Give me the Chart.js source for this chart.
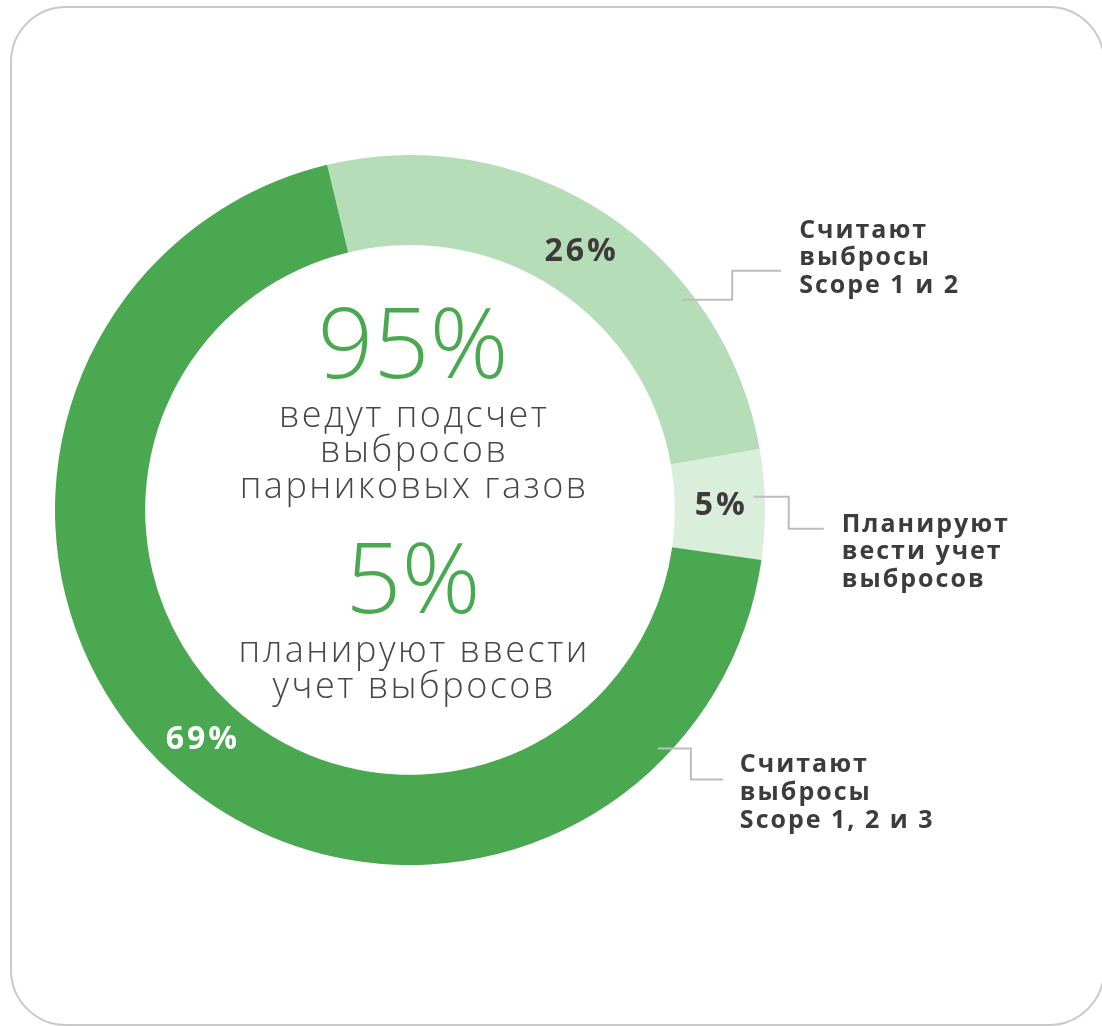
<!DOCTYPE html>
<html>
<head>
<meta charset="utf-8">
<script src="https://cdn.jsdelivr.net/npm/chart.js@4"></script>
<style>
  html, body { margin: 0; padding: 0; background: #fff; overflow: hidden; }
  #card {
    position: absolute; left: 10px; top: 6px; width: 1095px; height: 1020px;
    box-sizing: border-box; border: 2px solid #c9c9c9; border-radius: 56px;
  }
  #graph { position: absolute; left: 0; top: 0; }
</style>
</head>
<body>
<div id="card"></div>
<canvas id="graph" width="1102" height="1026"></canvas>
<script>
// data
const segmentLabels = ['Считают выбросы Scope 1 и 2', 'Планируют вести учет выбросов', 'Считают выбросы Scope 1, 2 и 3'];
const segmentValues = [26, 5, 69];
const calloutLines = [
    ['Считают', 'выбросы', 'Scope 1 и 2'],
    ['Планируют', 'вести учет', 'выбросов'],
    ['Считают', 'выбросы', 'Scope 1, 2 и 3'],
];
const centerBig = ['95%', '5%'];
const centerSmall = [
    ['ведут подсчет', 'выбросов', 'парниковых газов'],
    ['планируют ввести', 'учет выбросов'],
];

const colors = ['#b5ddb8', '#d9eedb', '#4aa850'];
const green = '#4aa850';
const darkText = '#3f3b3c';
const greyText = '#4a4647';

// callout geometry: angle (deg from top) of the start point, elbow offsets
const callouts = [
    { angle: 52.3, dx1: 50, dy: -29, dx2: 49, tx: 18, lineGap: 27.5, firstBase: -33 },
    { angle: 87.8, dx1: 35, dy: 32, dx2: 35, tx: 18, lineGap: 27.5, firstBase: 3 },
    { angle: 133.9, dx1: 33, dy: 31, dx2: 32, tx: 17, lineGap: 28, firstBase: -8 },
];

const boldFont = '700 25px "Open Sans", "DejaVu Sans", sans-serif';

const labelsPlugin = {
    id: 'labelsPlugin',
    afterDatasetsDraw(chart) {
        const c = chart.ctx;
        const meta = chart.getDatasetMeta(0);
        c.save();

        meta.data.forEach((arc, i) => {
            const p = arc.getCenterPoint();
            // percent on the ring
            c.font = '700 32px "Open Sans", "DejaVu Sans", sans-serif';
            c.letterSpacing = '3px';
            c.textAlign = 'center';
            c.textBaseline = 'middle';
            c.fillStyle = i === 2 ? '#ffffff' : darkText;
            c.fillText(segmentValues[i] + '%', p.x + 1.5, p.y + 1);

            // callout line
            const co = callouts[i];
            const a = (co.angle - 90) * Math.PI / 180;
            const r = arc.outerRadius - 11;
            const sx = arc.x + r * Math.cos(a);
            const sy = arc.y + r * Math.sin(a);
            c.strokeStyle = '#bdbdbd';
            c.lineWidth = 2;
            c.beginPath();
            c.moveTo(sx, sy);
            c.lineTo(sx + co.dx1, sy);
            c.lineTo(sx + co.dx1, sy + co.dy);
            c.lineTo(sx + co.dx1 + co.dx2, sy + co.dy);
            c.stroke();

            // callout text
            c.font = boldFont;
            c.letterSpacing = '2px';
            c.textAlign = 'left';
            c.textBaseline = 'alphabetic';
            c.fillStyle = darkText;
            const tx = sx + co.dx1 + co.dx2 + co.tx;
            calloutLines[i].forEach((line, j) => {
                c.fillText(line, tx, sy + co.dy + co.firstBase + j * co.lineGap);
            });
        });

        // center text
        const cx = meta.data[0].x + 3;
        const cy = meta.data[0].y;
        c.textAlign = 'center';
        c.textBaseline = 'alphabetic';
        c.fillStyle = green;
        c.letterSpacing = '0px';
        c.font = '300 98px "Open Sans", "Lato", sans-serif';
        c.fillText(centerBig[0], cx, cy - 132);
        c.fillText(centerBig[1], cx, cy + 103);

        c.fillStyle = greyText;
        c.font = '300 36px "Open Sans", "Lato", sans-serif';
        c.letterSpacing = '2.5px';
        const base1 = [-83, -48, -12];
        centerSmall[0].forEach((t, j) => c.fillText(t, cx + 1.2, cy + base1[j]));
        const base2 = [152, 188];
        centerSmall[1].forEach((t, j) => c.fillText(t, cx + 1.2, cy + base2[j]));

        c.restore();
    }
};

const ctx = document.getElementById('graph').getContext('2d');
const chart = new Chart(ctx, {
    type: 'doughnut',
    data: {
        labels: segmentLabels,
        datasets: [{
            data: segmentValues,
            backgroundColor: colors,
            borderWidth: 0,
        }],
    },
    options: {
        responsive: false,
        animation: false,
        rotation: -13.5,
        cutout: '74.6%',
        layout: {
            padding: { left: 55, right: 337, top: 155, bottom: 161 },
        },
        plugins: {
            legend: { display: false },
            tooltip: { enabled: false },
        },
    },
    plugins: [labelsPlugin],
});
</script>
</body>
</html>
